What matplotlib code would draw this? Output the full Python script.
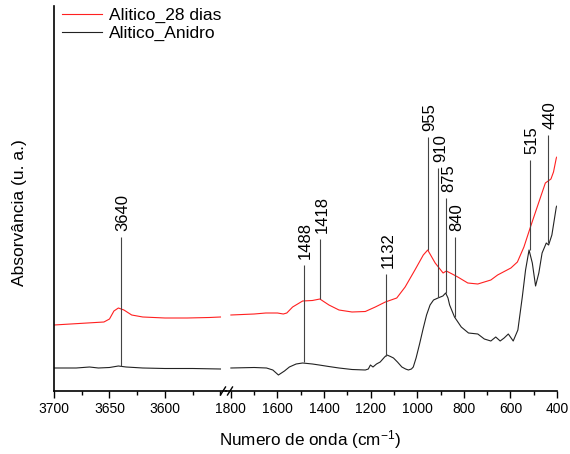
import matplotlib
matplotlib.use('Agg')
import matplotlib.pyplot as plt
from matplotlib.lines import Line2D
from matplotlib.ticker import MultipleLocator

plt.rcParams['font.family'] = ['Liberation Sans', 'DejaVu Sans']
plt.rcParams['mathtext.default'] = 'regular'

# ---- data (absorbance, arbitrary units) ----
# high wavenumber segment 3700-3550
wn_hi_red = [3700, 3685, 3670, 3655, 3650, 3646, 3642, 3637, 3630, 3620, 3600, 3580, 3560, 3550]
abs_hi_red = [0.66, 0.67, 0.68, 0.69, 0.72, 0.80, 0.83, 0.81, 0.76, 0.74, 0.73, 0.73, 0.735, 0.74]

wn_hi_blk = [3700, 3680, 3668, 3660, 3650, 3642, 3635, 3620, 3600, 3575, 3550]
abs_hi_blk = [0.23, 0.23, 0.24, 0.23, 0.235, 0.25, 0.24, 0.23, 0.225, 0.225, 0.22]

# low wavenumber segment 1800-400
wn_lo_red = [1800, 1750, 1700, 1650, 1600, 1575, 1560, 1535, 1492, 1450, 1418, 1379, 1336,
             1280, 1223, 1180, 1137, 1088, 1052, 1010, 974, 955, 923, 889, 875, 850, 826,
             783, 740, 684, 655, 598, 570, 542, 514, 485, 450, 426, 415, 403, 400]
abs_lo_red = [0.76, 0.765, 0.77, 0.78, 0.78, 0.77, 0.78, 0.84, 0.90, 0.905, 0.92, 0.86, 0.81,
              0.79, 0.795, 0.84, 0.89, 0.93, 1.04, 1.21, 1.36, 1.41, 1.28, 1.18, 1.20, 1.17,
              1.14, 1.08, 1.07, 1.11, 1.16, 1.23, 1.29, 1.44, 1.64, 1.84, 2.08, 2.12, 2.19,
              2.33, 2.34]

wn_lo_blk = [1800, 1700, 1647, 1620, 1596, 1570, 1549, 1520, 1492, 1450, 1421, 1380, 1336,
             1280, 1223, 1210, 1201, 1190, 1175, 1159, 1140, 1130, 1115, 1102, 1085, 1066,
             1050, 1038, 1025, 1017, 1005, 990, 975, 960, 945, 930, 911, 890, 878, 868,
             861, 840, 811, 780, 740, 712, 684, 663, 644, 627, 609, 588, 568, 549, 535,
             520, 506, 492, 478, 464, 446, 436, 422, 403, 400]
abs_lo_blk = [0.23, 0.235, 0.23, 0.21, 0.16, 0.20, 0.24, 0.27, 0.28, 0.27, 0.26, 0.245, 0.23,
              0.215, 0.21, 0.22, 0.26, 0.24, 0.27, 0.29, 0.34, 0.36, 0.345, 0.33, 0.29, 0.24,
              0.22, 0.21, 0.22, 0.24, 0.33, 0.47, 0.62, 0.76, 0.86, 0.91, 0.93, 0.95, 0.98,
              0.93, 0.86, 0.74, 0.64, 0.58, 0.57, 0.52, 0.50, 0.54, 0.50, 0.53, 0.57, 0.50,
              0.61, 0.94, 1.21, 1.41, 1.28, 1.05, 1.18, 1.38, 1.48, 1.46, 1.56, 1.84, 1.85]

# peak markers: wavenumber, line bottom, line top
peaks_hi = [3640]
peaks_hi_bot = [0.25]
peaks_hi_top = [1.54]

peaks_lo = [1488, 1418, 1132, 955, 910, 875, 840, 515, 440]
peaks_lo_bot = [0.29, 0.92, 0.35, 1.41, 0.94, 0.98, 0.74, 1.41, 1.48]
peaks_lo_top = [1.26, 1.52, 1.17, 2.54, 2.23, 1.93, 1.54, 2.31, 2.56]

# ---- figure ----
fig = plt.figure(figsize=(5.7, 4.54), dpi=100)
ax1 = fig.add_axes([54 / 570, 63 / 454, 172 / 570, 385 / 454])
ax2 = fig.add_axes([226 / 570, 63 / 454, 331 / 570, 385 / 454])

l1, = ax1.plot(wn_hi_red, abs_hi_red, color='#ff2020', lw=0.8)
l2, = ax1.plot(wn_hi_blk, abs_hi_blk, color='#222222', lw=0.8)
ax2.plot(wn_lo_red, abs_lo_red, color='#ff2020', lw=0.8)
ax2.plot(wn_lo_blk, abs_lo_blk, color='#222222', lw=0.8)

for ax, pk, bot, top in [(ax1, peaks_hi, peaks_hi_bot, peaks_hi_top),
                         (ax2, peaks_lo, peaks_lo_bot, peaks_lo_top)]:
    ax.vlines(pk, bot, top, color='#444444', lw=0.8)
    for p, t in zip(pk, top):
        ax.annotate(str(p), (p, t), xytext=(1.5, 4), textcoords='offset points',
                    rotation=90, ha='center', va='bottom', fontsize=12)

ax1.set_xlim(3700, 3545)
ax2.set_xlim(1821, 400)
for ax in (ax1, ax2):
    ax.set_ylim(0, 3.85)
    ax.spines['top'].set_visible(False)
    ax.spines['right'].set_visible(False)
    ax.spines['bottom'].set_linewidth(1.2)
    ax.set_yticks([])
    ax.tick_params(axis='x', which='major', direction='out', length=5, width=1,
                   labelsize=10, pad=3)
    ax.tick_params(axis='x', which='minor', direction='out', length=3, width=1)
    ax.patch.set_alpha(0)
ax1.spines['left'].set_linewidth(1.2)
ax2.spines['left'].set_visible(False)

ax1.set_xticks([3700, 3650, 3600])
ax1.xaxis.set_minor_locator(MultipleLocator(25))
ax2.set_xticks(range(1800, 399, -200))
ax2.xaxis.set_minor_locator(MultipleLocator(100))

# axis break marks
for xc in (223, 230):
    fig.add_artist(Line2D([(xc - 2.5) / 570, (xc + 2.5) / 570],
                          [(63 - 4) / 454, (63 + 4) / 454],
                          transform=fig.transFigure, color='k', lw=1))

fig.text(310 / 570, 1 - 440 / 454, 'Numero de onda (cm$^{-1}$)', ha='center', va='center',
         fontsize=12.3)
fig.text(20 / 570, 1 - 213 / 454, 'Absorvância (u. a.)', ha='center', va='center',
         rotation=90, fontsize=12.5)

fig.legend([l1, l2], ['Alitico_28 dias', 'Alitico_Anidro'], loc='upper left',
           bbox_to_anchor=(62 / 570, 1 - 8 / 454), frameon=False, fontsize=12.5,
           borderpad=0, borderaxespad=0, handlelength=2.3, handletextpad=0.4,
           labelspacing=0.15)

fig.savefig('out.png', dpi=100)
